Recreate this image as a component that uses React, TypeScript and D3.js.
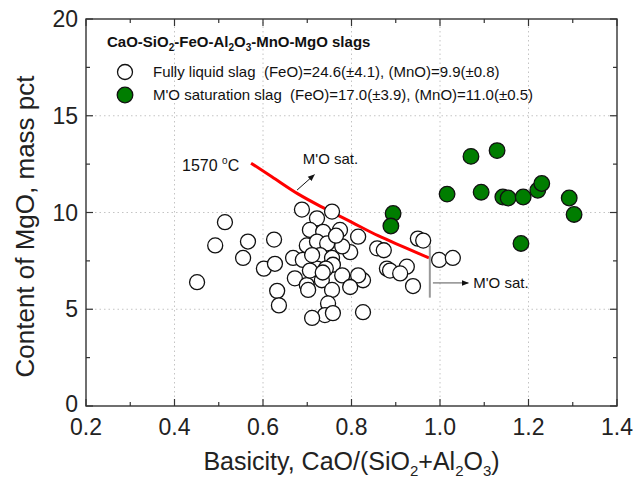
import React from "react";
import * as d3 from "d3";

const W = 633;
const H = 482;

// fully liquid slag (open circles)
const liquidX = [
  0.514, 0.492, 0.566, 0.555, 0.451, 0.625, 0.602, 0.627, 0.632, 0.636,
  0.688, 0.722, 0.756, 0.706, 0.736, 0.699, 0.722, 0.745, 0.668, 0.69,
  0.729, 0.756, 0.672, 0.699, 0.702, 0.733, 0.756, 0.747, 0.74, 0.711,
  0.758, 0.722, 0.706, 0.815, 0.797, 0.774, 0.779, 0.758, 0.779, 0.858,
  0.873, 0.95, 0.962, 0.88, 0.887, 0.925, 0.91, 0.939, 0.998, 1.029,
  0.826, 0.815, 0.797, 0.826, 0.711, 0.742, 0.765, 0.735,
];
const liquidY = [
  9.5, 8.3, 8.5, 7.65, 6.4, 8.6, 7.1, 7.35, 5.95, 5.2,
  10.15, 9.7, 10.05, 9.1, 9.0, 8.3, 8.5, 8.4, 7.65, 7.55,
  7.8, 7.65, 6.6, 6.25, 6.0, 6.5, 6.0, 5.3, 4.7, 4.55,
  4.8, 7.1, 7.0, 8.75, 7.95, 9.1, 8.25, 7.3, 6.75, 8.15,
  8.05, 8.65, 8.55, 7.1, 7.0, 7.2, 6.85, 6.2, 7.55, 7.65,
  6.5, 6.75, 6.15, 4.85, 7.8, 7.1, 8.8, 6.9,
];

// M'O saturation slag (filled circles)
const satX = [
  0.894, 0.889, 1.016, 1.07, 1.129, 1.093, 1.142, 1.154, 1.188, 1.221,
  1.23, 1.292, 1.303, 1.183,
];
const satY = [
  9.95, 9.3, 10.95, 12.9, 13.2, 11.05, 10.8, 10.75, 10.8, 11.15,
  11.5, 10.75, 9.9, 8.4,
];

// 1570 C saturation boundary
const lineX = [0.573, 0.62, 0.68, 0.74, 0.8, 0.86, 0.92, 0.975];
const lineY = [12.55, 11.85, 10.95, 10.2, 9.5, 8.8, 8.2, 7.65];

const xMajor = [0.2, 0.4, 0.6, 0.8, 1.0, 1.2, 1.4];
const xMinor = [0.3, 0.5, 0.7, 0.9, 1.1, 1.3];
const yMajor = [0, 5, 10, 15, 20];
const yMinor = [2.5, 7.5, 12.5, 17.5];

const FONT = "'Liberation Sans', Arial, sans-serif";
const GREEN = "#007d00";

export default function App() {
  const x = d3.scaleLinear().domain([0.2, 1.4]).range([86, 617]);
  const y = d3.scaleLinear().domain([0, 20]).range([406, 19]);
  const [x0, x1] = x.range();
  const [y0, y1] = y.range();

  const line = d3
    .line<number>()
    .x((_, i) => x(lineX[i]))
    .y((d) => y(d))
    .curve(d3.curveMonotoneX);

  const axisColor = "#333";

  return (
    <svg width={W} height={H} style={{ position: "absolute", left: 0, top: 0, background: "#fff" }}>
      <defs>
        <marker id="arr" viewBox="0 0 10 10" refX="9" refY="5" markerWidth="7" markerHeight="7" orient="auto">
          <path d="M0,1 L10,5 L0,9 z" fill="#111" />
        </marker>
      </defs>

      {/* grid */}
      {xMajor.slice(1, -1).map((v) => (
        <line key={"gx" + v} x1={x(v)} x2={x(v)} y1={y0} y2={y1} stroke="#c4c4c4" strokeDasharray="1.5,3" />
      ))}
      {yMajor.slice(1, -1).map((v) => (
        <line key={"gy" + v} x1={x0} x2={x1} y1={y(v)} y2={y(v)} stroke="#c4c4c4" strokeDasharray="1.5,3" />
      ))}

      {/* ticks, inward on all sides */}
      {xMajor.map((v) => (
        <g key={"tx" + v}>
          <line x1={x(v)} x2={x(v)} y1={y0} y2={y0 - 7} stroke={axisColor} strokeWidth={1.2} />
          <line x1={x(v)} x2={x(v)} y1={y1} y2={y1 + 7} stroke={axisColor} strokeWidth={1.2} />
        </g>
      ))}
      {xMinor.map((v) => (
        <g key={"mx" + v}>
          <line x1={x(v)} x2={x(v)} y1={y0} y2={y0 - 4} stroke={axisColor} strokeWidth={1.2} />
          <line x1={x(v)} x2={x(v)} y1={y1} y2={y1 + 4} stroke={axisColor} strokeWidth={1.2} />
        </g>
      ))}
      {yMajor.map((v) => (
        <g key={"ty" + v}>
          <line x1={x0} x2={x0 + 7} y1={y(v)} y2={y(v)} stroke={axisColor} strokeWidth={1.2} />
          <line x1={x1} x2={x1 - 7} y1={y(v)} y2={y(v)} stroke={axisColor} strokeWidth={1.2} />
        </g>
      ))}
      {yMinor.map((v) => (
        <g key={"my" + v}>
          <line x1={x0} x2={x0 + 4} y1={y(v)} y2={y(v)} stroke={axisColor} strokeWidth={1.2} />
          <line x1={x1} x2={x1 - 4} y1={y(v)} y2={y(v)} stroke={axisColor} strokeWidth={1.2} />
        </g>
      ))}

      <rect x={x0} y={y1} width={x1 - x0} height={y0 - y1} fill="none" stroke={axisColor} strokeWidth={1.4} />

      {/* tick labels */}
      {xMajor.map((v) => (
        <text key={"lx" + v} x={x(v)} y={y0 + 29} textAnchor="middle" fontFamily={FONT} fontSize={23} fill="#222">
          {v.toFixed(1)}
        </text>
      ))}
      {yMajor.map((v) => (
        <text key={"ly" + v} x={x0 - 8} y={y(v) + (v === 0 ? 6 : 8)} textAnchor="end" fontFamily={FONT} fontSize={23} fill="#222">
          {v}
        </text>
      ))}

      {/* axis titles */}
      <text x={(x0 + x1) / 2} y={470} textAnchor="middle" fontFamily={FONT} fontSize={25} fill="#222">
        Basicity, CaO/(SiO<tspan dy={6} fontSize={15}>2</tspan>
        <tspan dy={-6}>+Al</tspan>
        <tspan dy={6} fontSize={15}>2</tspan>
        <tspan dy={-6}>O</tspan>
        <tspan dy={6} fontSize={15}>3</tspan>
        <tspan dy={-6}>)</tspan>
      </text>
      <text
        transform={`translate(34,${(y0 + y1) / 2 + 14}) rotate(-90)`}
        textAnchor="middle"
        fontFamily={FONT}
        fontSize={26}
        fill="#222"
      >
        Content of MgO, mass pct
      </text>

      {/* saturation line */}
      <path d={line(lineY) || ""} fill="none" stroke="#ff0000" strokeWidth={3} />

      {/* markers */}
      {liquidX.map((v, i) => (
        <circle key={"l" + i} cx={x(v)} cy={y(liquidY[i])} r={7.5} fill="#fff" stroke="#111" strokeWidth={1.3} />
      ))}
      {satX.map((v, i) => (
        <circle key={"s" + i} cx={x(v)} cy={y(satY[i])} r={7.8} fill={GREEN} stroke="#111" strokeWidth={1.3} />
      ))}

      {/* annotations */}
      <text x={x(0.417)} y={y(12.15)} fontFamily={FONT} fontSize={16} fill="#111">
        1570 <tspan dy={-7} fontSize={10}>o</tspan>
        <tspan dy={7}>C</tspan>
      </text>
      <text x={x(0.69)} y={y(12.5)} fontFamily={FONT} fontSize={15} fill="#111">
        M'O sat.
      </text>
      <line x1={x(0.677)} y1={y(11.16)} x2={x(0.716)} y2={y(11.95)} stroke="#111" strokeWidth={1} markerEnd="url(#arr)" />

      <line x1={x(0.977)} x2={x(0.977)} y1={y(8.3)} y2={y(5.6)} stroke="#999" strokeWidth={2} />
      <line x1={x(0.984)} x2={x(1.064)} y1={y(6.36)} y2={y(6.36)} stroke="#555" strokeWidth={1} markerEnd="url(#arr)" />
      <text x={x(1.075)} y={y(6.36) + 5} fontFamily={FONT} fontSize={15} fill="#111">
        M'O sat.
      </text>

      {/* legend */}
      <text x={107} y={47} fontFamily={FONT} fontSize={15} fontWeight="bold" fill="#111">
        CaO-SiO<tspan dy={4} fontSize={10}>2</tspan>
        <tspan dy={-4}>-FeO-Al</tspan>
        <tspan dy={4} fontSize={10}>2</tspan>
        <tspan dy={-4}>O</tspan>
        <tspan dy={4} fontSize={10}>3</tspan>
        <tspan dy={-4}>-MnO-MgO slags</tspan>
      </text>
      <circle cx={125} cy={72} r={7.5} fill="#fff" stroke="#111" strokeWidth={1.3} />
      <text x={153} y={77} fontFamily={FONT} fontSize={15} fill="#111" style={{ whiteSpace: "pre" }}>
        {"Fully liquid slag  (FeO)=24.6(\u00b14.1), (MnO)=9.9(\u00b10.8)"}
      </text>
      <circle cx={125} cy={95} r={7.8} fill={GREEN} stroke="#111" strokeWidth={1.3} />
      <text x={153} y={100} fontFamily={FONT} fontSize={15} fill="#111" style={{ whiteSpace: "pre" }}>
        {"M'O saturation slag  (FeO)=17.0(\u00b13.9), (MnO)=11.0(\u00b10.5)"}
      </text>
    </svg>
  );
}
